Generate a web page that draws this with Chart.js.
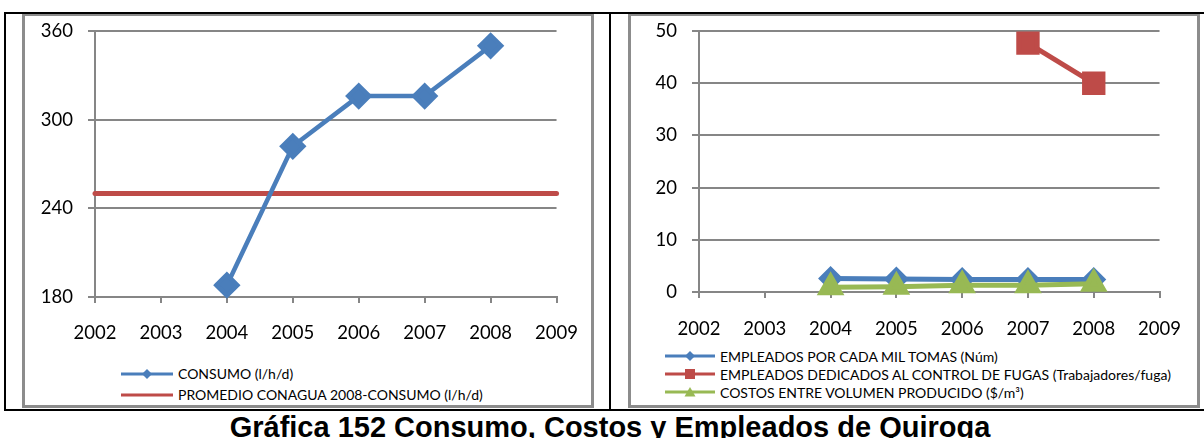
<!DOCTYPE html>
<html lang="es">
<head>
<meta charset="UTF-8">
<title>Gráfica 152 Consumo, Costos y Empleados de Quiroga</title>
<script src="https://cdn.jsdelivr.net/npm/chart.js"></script>
<style>
    body {
        margin: 0;
        background: #ffffff;
        font-family: 'Lato', sans-serif;
        overflow: hidden;
    }
    #page {
        position: relative;
        width: 1204px;
        height: 438px;
        overflow: hidden;
    }
    .blk {
        position: absolute;
        background: #000000;
        z-index: 2;
    }
    .panel {
        position: absolute;
        top: 13px;
        width: 572px;
        height: 395px;
        border: 3px solid #8c8c8c;
        box-sizing: border-box;
    }
    .wrap {
        position: absolute;
        left: 0;
        top: -11px;
    }
    .legend {
        position: absolute;
        font-size: 14px;
        color: #000;
    }
    .legend .row {
        display: flex;
        align-items: center;
        height: 18px;
        white-space: nowrap;
    }
    .legend svg {
        margin-right: 5px;
        flex: none;
    }
    #title {
        position: absolute;
        left: 0;
        top: 413px;
        width: 1220px;
        text-align: center;
        font-family: 'Liberation Sans', Arial, sans-serif;
        font-weight: bold;
        font-size: 29px;
        line-height: 29px;
        white-space: nowrap;
    }
</style>
</head>
<body>
<div id="page">
    <div class="blk" style="left:4px; top:12px; width:1200px; height:2px;"></div>
    <div class="blk" style="left:4px; top:12px; width:2px; height:399px;"></div>
    <div class="blk" style="left:609px; top:12px; width:2px; height:399px;"></div>
    <div class="blk" style="left:4px; top:409px; width:1200px; height:2px;"></div>

    <div class="panel" style="left:22px;">
        <div class="wrap" style="width:572px; height:345px;"><canvas id="consumoChart"></canvas></div>
        <div class="legend" id="legendLeft" style="left:96px; top:347px;"></div>
    </div>
    <div class="panel" style="left:628px;">
        <div class="wrap" style="width:570px; height:335px;"><canvas id="empleadosChart"></canvas></div>
        <div class="legend" id="legendRight" style="left:34px; top:331px;"></div>
    </div>

    <div id="title">Gráfica 152 Consumo, Costos y Empleados de Quiroga</div>
</div>

<script>
    // data
    const years = ['2002', '2003', '2004', '2005', '2006', '2007', '2008', '2009'];

    const consumo = [null, null, 188, 282, 316, 316, 350, null];
    const promedioConagua = [250, 250, 250, 250, 250, 250, 250, 250];

    const empleadosPorMil = [null, null, 2.6, 2.5, 2.4, 2.4, 2.4, null];
    const empleadosFugas = [null, null, null, null, null, 47.7, 40, null];
    const costosVolumen = [null, null, 0.9, 1.0, 1.3, 1.3, 1.6, null];

    const consumoTicks = { min: 180, max: 360, step: 60 };
    const empleadosTicks = { min: 0, max: 50, step: 10 };

    const BLUE = '#4a7ebb';
    const RED = '#be4b48';
    const GREEN = '#98b954';
    const GRID = '#868686';

    Chart.defaults.font.family = "'Lato', sans-serif";
    Chart.defaults.color = '#000';

    function makeChart(id, datasets, ticks, yWidth, xHeight, rightPad, xPad) {
        const ctx = document.getElementById(id).getContext('2d');
        return new Chart(ctx, {
            type: 'line',
            data: { labels: years, datasets: datasets },
            options: {
                responsive: true,
                maintainAspectRatio: false,
                animation: false,
                spanGaps: false,
                layout: { autoPadding: false, padding: { top: 4, right: rightPad, left: 0, bottom: 0 } },
                plugins: {
                    legend: { display: false },
                    tooltip: { enabled: false }
                },
                scales: {
                    x: {
                        offset: false,
                        grid: {
                            drawOnChartArea: false,
                            drawTicks: true,
                            tickLength: 6,
                            color: GRID,
                            lineWidth: 2
                        },
                        border: { color: GRID, width: 2 },
                        ticks: { padding: xPad, font: { size: 18.5 }, maxRotation: 0, autoSkip: false },
                        afterFit: s => { s.height = xHeight; }
                    },
                    y: {
                        min: ticks.min,
                        max: ticks.max,
                        grid: { color: GRID, lineWidth: 2, tickLength: 7 },
                        border: { color: GRID, width: 2 },
                        ticks: { stepSize: ticks.step, padding: 15, font: { size: 18.5 } },
                        afterFit: s => { s.width = yWidth; }
                    }
                }
            }
        });
    }

    const leftSets = [
        {
            label: 'CONSUMO (l/h/d)',
            data: consumo,
            borderColor: BLUE,
            backgroundColor: BLUE,
            borderWidth: 4.5,
            pointStyle: 'rectRot',
            pointRadius: 10.5,
            clip: false,
            marker: 'diamond'
        },
        {
            label: 'PROMEDIO CONAGUA 2008-CONSUMO (l/h/d)',
            data: promedioConagua,
            borderColor: RED,
            backgroundColor: RED,
            borderWidth: 5,
            borderCapStyle: 'round',
            pointRadius: 0,
            clip: false,
            marker: 'none'
        }
    ];

    const rightSets = [
        {
            label: 'EMPLEADOS POR CADA MIL TOMAS (Núm)',
            data: empleadosPorMil,
            borderColor: BLUE,
            backgroundColor: BLUE,
            borderWidth: 5,
            pointStyle: 'rectRot',
            pointRadius: 9,
            clip: false,
            order: 3,
            marker: 'diamond'
        },
        {
            label: 'EMPLEADOS DEDICADOS AL CONTROL DE FUGAS (Trabajadores/fuga)',
            data: empleadosFugas,
            borderColor: RED,
            backgroundColor: RED,
            borderWidth: 5,
            pointStyle: 'rect',
            pointRadius: 13,
            clip: false,
            order: 2,
            marker: 'square'
        },
        {
            label: 'COSTOS ENTRE VOLUMEN PRODUCIDO ($/m³)',
            data: costosVolumen,
            borderColor: GREEN,
            backgroundColor: GREEN,
            borderWidth: 5,
            pointStyle: 'triangle',
            pointRadius: 11,
            clip: false,
            order: 1,
            marker: 'triangle'
        }
    ];

    makeChart('consumoChart', leftSets, consumoTicks, 70, 53, 28, 19);
    makeChart('empleadosChart', rightSets, empleadosTicks, 68, 48, 33, 20);

    // html legend, one entry per row like the original
    function markerSvg(ds, w) {
        const c = ds.borderColor;
        let m = '';
        const cx = w / 2, cy = 6;
        if (ds.marker === 'diamond') {
            m = `<polygon points="${cx},${cy - 5} ${cx + 5},${cy} ${cx},${cy + 5} ${cx - 5},${cy}" fill="${c}"/>`;
        } else if (ds.marker === 'square') {
            m = `<rect x="${cx - 5}" y="${cy - 5}" width="10" height="10" fill="${c}"/>`;
        } else if (ds.marker === 'triangle') {
            m = `<polygon points="${cx},${cy - 5} ${cx + 5.5},${cy + 4.5} ${cx - 5.5},${cy + 4.5}" fill="${c}"/>`;
        }
        return `<svg width="${w}" height="12"><line x1="0" y1="${cy}" x2="${w}" y2="${cy}" stroke="${c}" stroke-width="3"/>${m}</svg>`;
    }

    function buildLegend(id, sets, w, rowH) {
        const el = document.getElementById(id);
        el.innerHTML = sets.map(ds =>
            `<div class="row" style="height:${rowH}px">${markerSvg(ds, w)}<span>${ds.label}</span></div>`
        ).join('');
    }

    buildLegend('legendLeft', leftSets, 52, 21);
    buildLegend('legendRight', rightSets, 50, 18);
</script>
</body>
</html>
